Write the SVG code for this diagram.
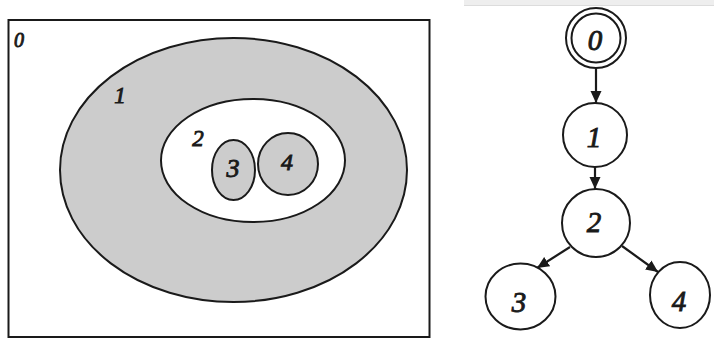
<svg xmlns="http://www.w3.org/2000/svg" width="714" height="339" viewBox="0 0 714 339">
<style>
.ln{fill:none;stroke:#1a1a1a;stroke-width:2}
.gr{fill:#cccccc;stroke:#1a1a1a;stroke-width:2}
.wh{fill:#ffffff;stroke:#1a1a1a;stroke-width:2}
.t{font-family:"Liberation Serif","Times New Roman",serif;font-style:italic;font-weight:normal;fill:#1a1a1a;stroke:#1a1a1a;stroke-width:0.9;text-anchor:middle}
.e{stroke:#1a1a1a;stroke-width:2.2;fill:none}
</style>
<defs>
<marker id="ah" markerUnits="userSpaceOnUse" markerWidth="13" markerHeight="13" viewBox="0 0 13 13" refX="12" refY="6.5" orient="auto">
<path d="M0,1 L12,6.5 L0,12 Z" fill="#1a1a1a"/>
</marker>
</defs>
<rect x="464" y="0" width="250" height="5" fill="#eeeeee"/>
<line x1="464" y1="5.5" x2="714" y2="5.5" stroke="#dcdcdc" stroke-width="1"/>
<g id="venn">
<g id="v0"><rect x="8.5" y="20" width="421" height="317" class="wh"/><text x="19" y="47" class="t" font-size="20">0</text></g>
<g id="v1"><ellipse cx="233.5" cy="170" rx="173.5" ry="132" class="gr"/><text x="120" y="103" class="t" font-size="23">1</text></g>
<g id="v2"><ellipse cx="253" cy="160.5" rx="92" ry="61.5" class="wh"/><text x="198" y="146" class="t" font-size="23">2</text></g>
<g id="v3"><ellipse cx="233.5" cy="170" rx="21.5" ry="30" class="gr"/><text x="233" y="177" class="t" font-size="26">3</text></g>
<g id="v4"><ellipse cx="288" cy="164" rx="30" ry="31" class="gr"/><text x="287" y="170" class="t" font-size="24">4</text></g>
</g>
<g id="connectors">
<line x1="596" y1="68" x2="596" y2="103" class="e" marker-end="url(#ah)"/>
<line x1="595" y1="167" x2="595" y2="189" class="e" marker-end="url(#ah)"/>
<line x1="570" y1="247" x2="537" y2="268" class="e" marker-end="url(#ah)"/>
<line x1="622" y1="246" x2="658" y2="272" class="e" marker-end="url(#ah)"/>
</g>
<g id="n0"><circle cx="596" cy="38" r="30" class="wh"/><circle cx="596" cy="38" r="24.5" class="ln"/><text x="595" y="50" class="t" font-size="29">0</text></g>
<g id="n1"><circle cx="595" cy="135" r="32" class="wh"/><text x="594" y="147" class="t" font-size="29">1</text></g>
<g id="n2"><circle cx="596" cy="223" r="34" class="wh"/><text x="594" y="232" class="t" font-size="29">2</text></g>
<g id="n3"><ellipse cx="520.5" cy="296.5" rx="35" ry="33" class="wh"/><text x="519" y="312" class="t" font-size="29">3</text></g>
<g id="n4"><ellipse cx="680" cy="295" rx="30" ry="33" class="wh"/><text x="679" y="311" class="t" font-size="29">4</text></g>
</svg>
